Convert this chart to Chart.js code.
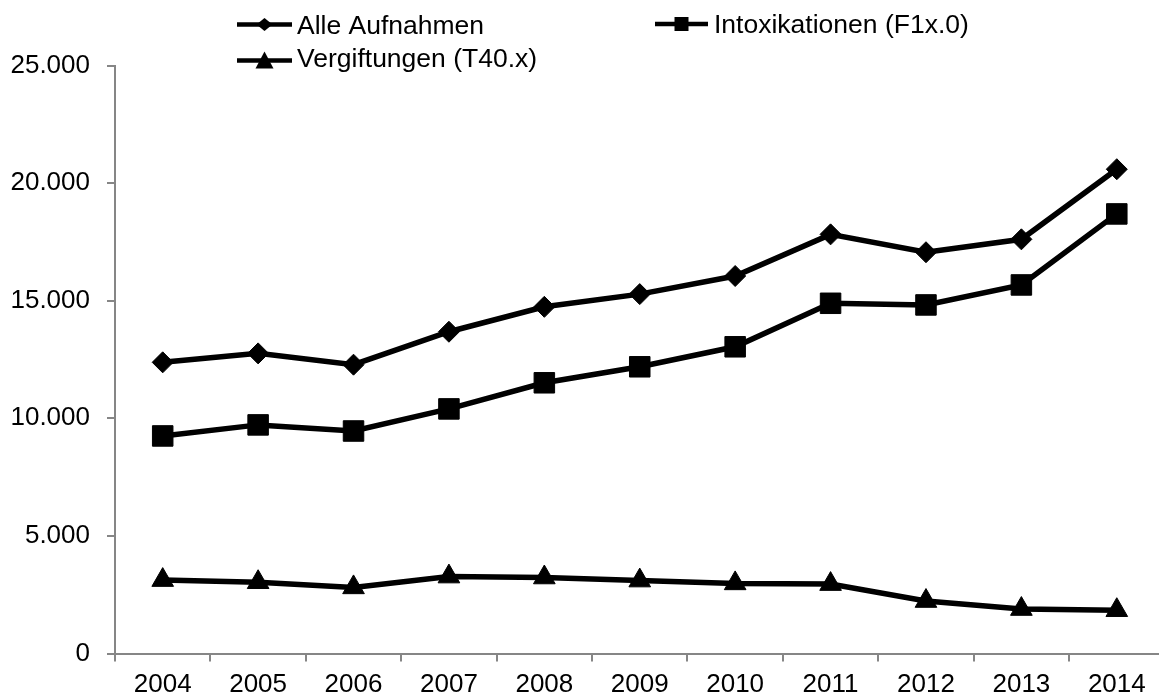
<!DOCTYPE html>
<html>
<head>
<meta charset="utf-8">
<script src="https://cdn.jsdelivr.net/npm/chart.js@4/dist/chart.umd.min.js"></script>
<style>
  html, body { margin: 0; padding: 0; background: #fff; overflow: hidden; }
  #wrap { width: 1159px; height: 697px; overflow: hidden; position: relative; }
  canvas { display: block; }
</style>
</head>
<body>
<div id="wrap"><canvas id="c" width="1180" height="697"></canvas></div>
<script>
const years = ['2004','2005','2006','2007','2008','2009','2010','2011','2012','2013','2014'];
const alleAufnahmen = [12380, 12760, 12280, 13680, 14740, 15280, 16050, 17820, 17060, 17610, 20590];
const intoxikationen = [9250, 9720, 9460, 10400, 11510, 12190, 13040, 14890, 14820, 15670, 18690];
const vergiftungen = [3120, 3030, 2810, 3270, 3230, 3100, 2980, 2950, 2230, 1890, 1840];
const seriesNames = ['Alle Aufnahmen', 'Intoxikationen (F1x.0)', 'Vergiftungen (T40.x)'];
const yTicks = [0, 5000, 10000, 15000, 20000, 25000];

const FONT = '"Liberation Sans", Arial, sans-serif';
const AXIS = '#868686';

function fmt(v) {
  return String(v).replace(/\B(?=(\d{3})+(?!\d))/g, '.');
}

function drawMarker(ctx, style, x, y, s) {
  ctx.beginPath();
  if (style === 'rectRot') {
    ctx.moveTo(x - s, y); ctx.lineTo(x, y - s * 0.8); ctx.lineTo(x + s, y); ctx.lineTo(x, y + s * 0.8);
  } else if (style === 'rect') {
    ctx.rect(x - s, y - s, 2 * s, 2 * s);
  } else {
    ctx.moveTo(x, y - s); ctx.lineTo(x + s, y + s * 0.9); ctx.lineTo(x - s, y + s * 0.9);
  }
  ctx.closePath();
  ctx.fill();
}

const legendPlugin = {
  id: 'customLegend',
  afterDraw(chart) {
    const ctx = chart.ctx;
    const items = [
      { name: seriesNames[0], style: 'rectRot', x0: 237, x1: 292, ly: 24.5, tx: 297, ty: 34, s: 8 },
      { name: seriesNames[1], style: 'rect', x0: 655, x1: 708, ly: 24, tx: 714, ty: 33, s: 7 },
      { name: seriesNames[2], style: 'triangle', x0: 237, x1: 292, ly: 60.5, tx: 297, ty: 66.5, s: 9 }
    ];
    ctx.save();
    ctx.fillStyle = '#000';
    ctx.strokeStyle = '#000';
    items.forEach(it => {
      ctx.lineWidth = 4.5;
      ctx.beginPath();
      ctx.moveTo(it.x0, it.ly); ctx.lineTo(it.x1, it.ly);
      ctx.stroke();
      drawMarker(ctx, it.style, (it.x0 + it.x1) / 2, it.ly, it.s);
      ctx.font = '26.5px ' + FONT;
      ctx.textAlign = 'left';
      ctx.textBaseline = 'alphabetic';
      ctx.fillText(it.name, it.tx, it.ty);
    });
    ctx.restore();
  }
};

function ds(label, data, style, radius) {
  return {
    label, data,
    borderColor: '#000', backgroundColor: '#000',
    borderWidth: 5.5, tension: 0,
    pointStyle: style, pointRadius: radius, pointHoverRadius: radius,
    pointBackgroundColor: '#000', pointBorderColor: '#000', pointBorderWidth: 1
  };
}

new Chart(document.getElementById('c'), {
  type: 'line',
  data: {
    labels: years,
    datasets: [
      ds(seriesNames[0], alleAufnahmen, 'rectRot', 10.5),
      ds(seriesNames[1], intoxikationen, 'rect', 14.5),
      ds(seriesNames[2], vergiftungen, 'triangle', 12.5)
    ]
  },
  options: {
    responsive: false,
    animation: false,
    devicePixelRatio: 1,
    layout: { padding: { left: 0, top: 65.5, right: 6, bottom: 0 } },
    plugins: { legend: { display: false }, tooltip: { enabled: false } },
    scales: {
      x: {
        offset: true,
        grid: { display: true, offset: true, drawOnChartArea: false, drawTicks: true, tickLength: 8, color: AXIS, lineWidth: 2 },
        border: { display: true, color: AXIS, width: 2 },
        ticks: { color: '#000', font: { family: FONT, size: 26 }, padding: 8, maxRotation: 0, autoSkip: false },
        afterFit(scale) { scale.height = 43.5; }
      },
      y: {
        min: 0, max: 25000,
        afterBuildTicks(scale) { scale.ticks = yTicks.map(v => ({ value: v })); },
        grid: { display: true, drawOnChartArea: false, drawTicks: true, tickLength: 8, color: AXIS, lineWidth: 2 },
        border: { display: true, color: AXIS, width: 2 },
        ticks: { color: '#000', font: { family: FONT, size: 26 }, padding: 17, callback: v => fmt(v) },
        afterFit(scale) { scale.width = 115; }
      }
    }
  },
  plugins: [legendPlugin]
});
</script>
</body>
</html>
